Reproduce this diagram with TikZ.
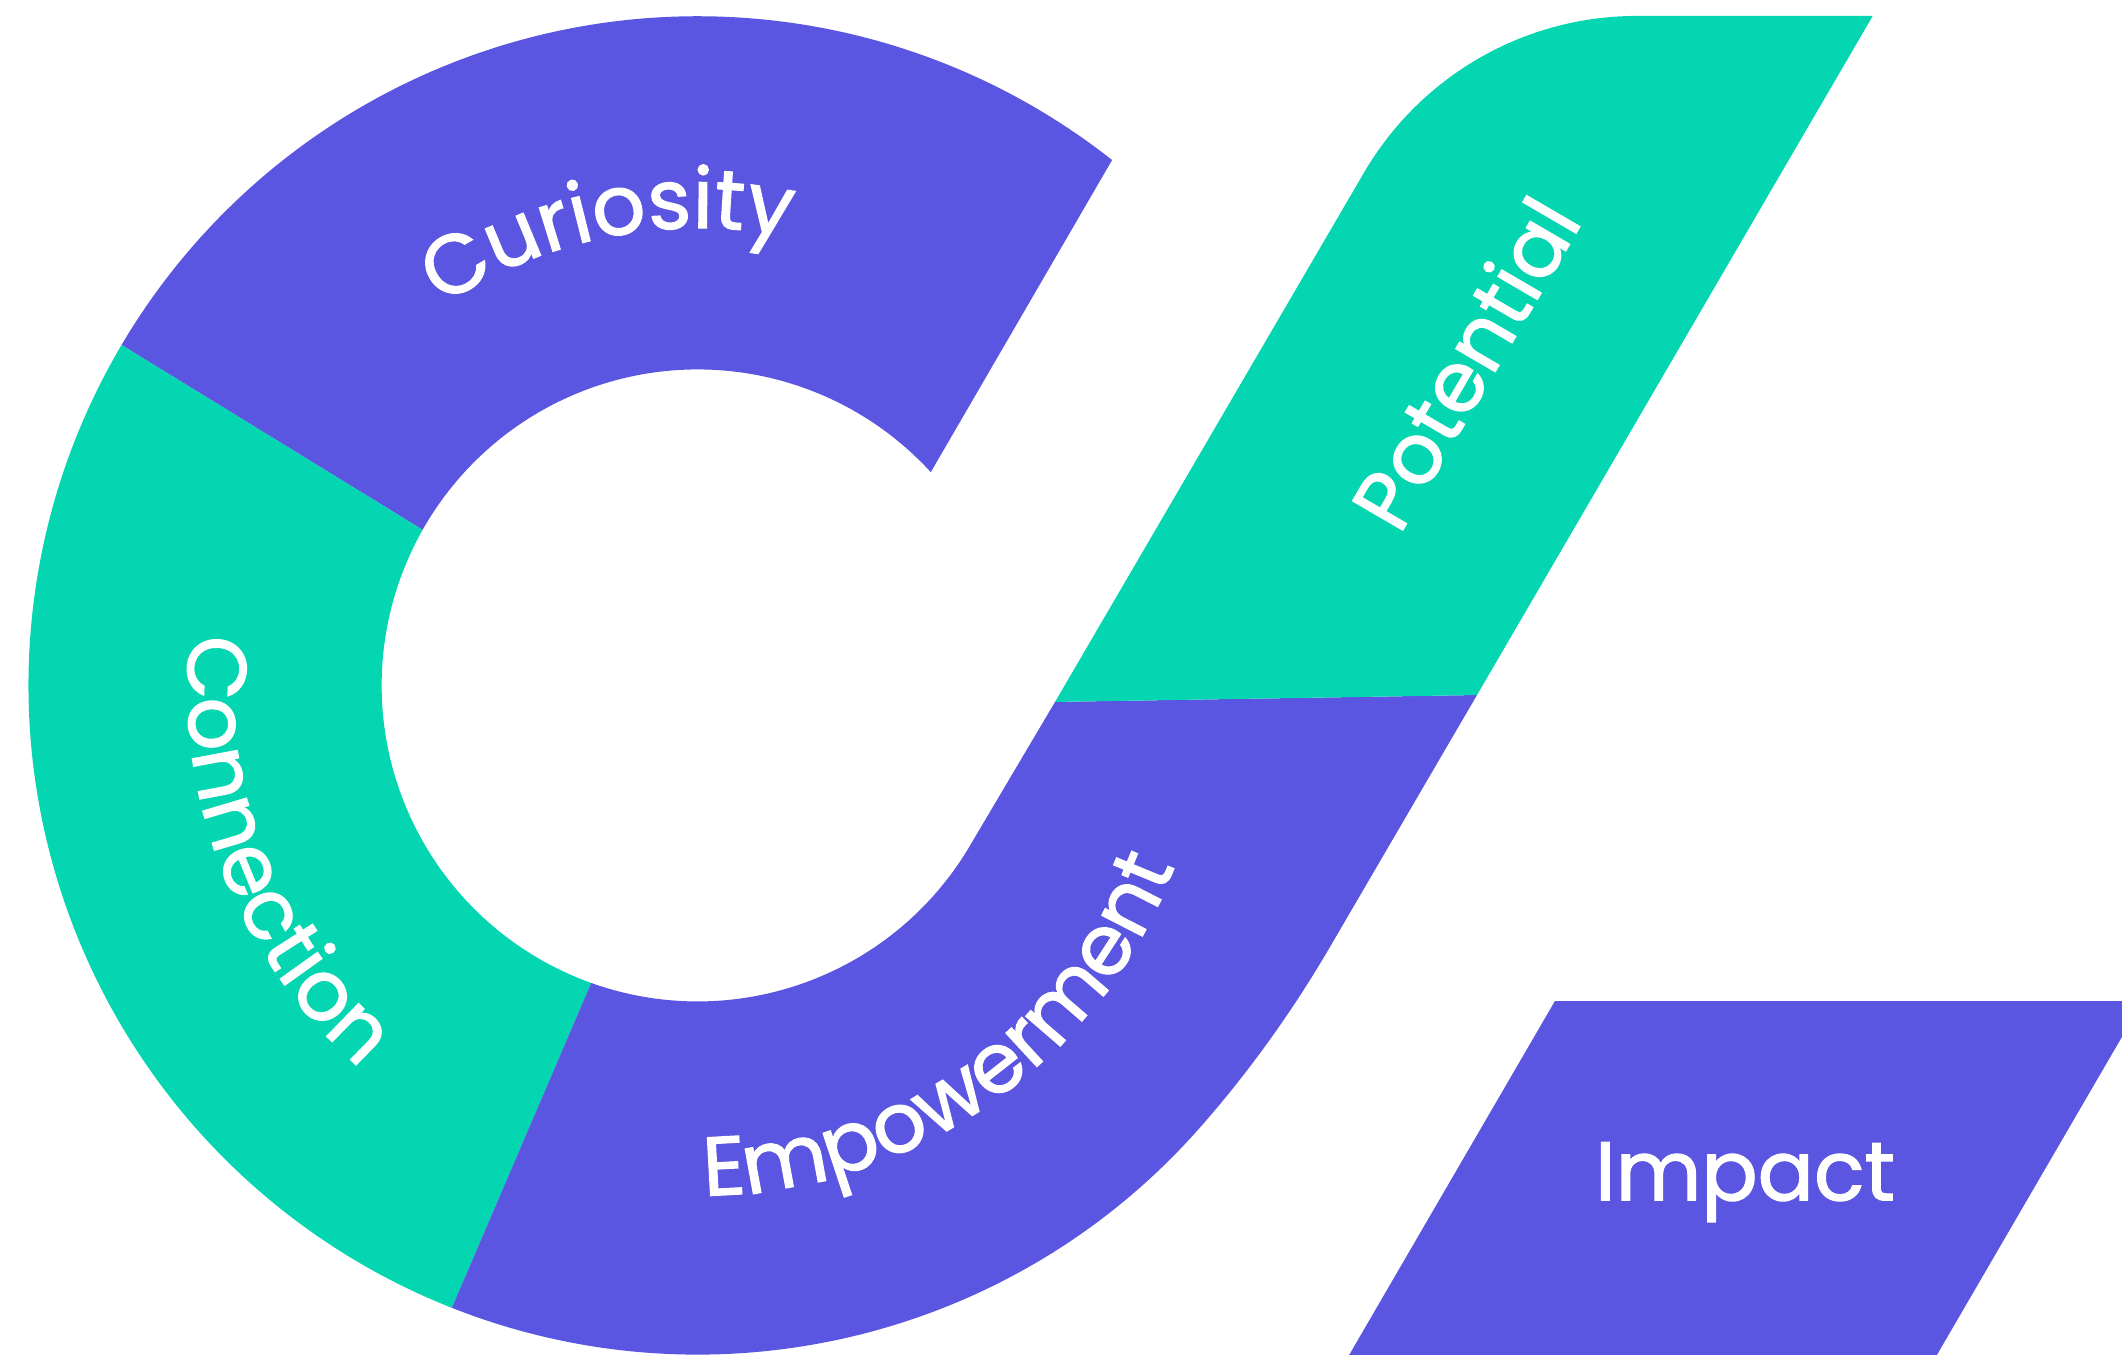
\documentclass[tikz,border=0pt]{standalone}
\usepackage{fontspec}
\setmainfont{Poppins}
\newfontfamily\lblfam{Poppins}[FakeBold=1.5]
\usetikzlibrary{decorations.text}
\definecolor{purp}{RGB}{90,86,225}
\definecolor{mint}{RGB}{4,214,178}
\newcommand{\lblfont}{\lblfam\fontsize{17.5pt}{20pt}\selectfont}
\tikzset{
  lbl/.style={text=white, font=\lblfont, inner sep=0pt},
  arclbl/.style={decorate, decoration={text along path, text align=center, text color=white, text={|\lblfont|#1}}}
}
\begin{document}
\begin{tikzpicture}[x=0.01cm,y=0.01cm]
\useasboundingbox (0,0) rectangle (1568,1001);
\clip (0,0) rectangle (1568,1001);
\coordinate (O) at (515.5,494.5);
% key points
\coordinate (PL) at (779.6,482.3);
\coordinate (PR) at (1091.4,487.4);
\coordinate (TP) at (1007.9,873.4);
\coordinate (TR) at (1383.8,989.2);
\coordinate (Pb) at (982.6,301);
% Curiosity
\fill[purp] ([shift={(149.42:494.5)}]O) arc[start angle=149.42, end angle=51.73, radius=494.5]
  -- ([shift={(42.45:233.5)}]O) arc[start angle=42.45, end angle=150.5, radius=233.5] -- cycle;
% Connection
\fill[mint] ([shift={(149.42:494.5)}]O) arc[start angle=149.42, end angle=248.45, radius=494.5]
  -- ([shift={(250.32:233.5)}]O) arc[start angle=250.32, end angle=150.5, radius=233.5] -- cycle;
% Empowerment
\fill[purp] ([shift={(248.45:494.5)}]O) arc[start angle=248.45, end angle=318.37, radius=494.5]
  .. controls (921.6,207.1) and (954.9,253.5) .. (Pb) -- (PR) -- (PL)
  -- ([shift={(329.73:233.5)}]O) arc[start angle=329.73, end angle=250.32, radius=233.5] -- cycle;
% Potential
\fill[mint] (PL) -- (TP) arc[start angle=149.73, end angle=90, radius=233.5] -- (TR) -- (PR) -- cycle;
% Impact
\fill[purp] (1149,261.3) coordinate (I1) -- (1583.4,261.3) coordinate (I2) -- (1430.8,-1) coordinate (I3) -- (996.5,-1) coordinate (I4) -- cycle;
% labels
\path[arclbl=Curiosity] ([shift={(141.2:338)}]O) arc[start angle=141.2, end angle=61.2, radius=338];
\path[arclbl=Connection] ([shift={(161.5:377)}]O) arc[start angle=161.5, end angle=241.5, radius=377];
\path[arclbl=Empowerment] ([shift={(255:377)}]O) arc[start angle=255, end angle=355, radius=377];
\node[lbl, rotate=59.73, anchor=base] (pot) at (1102,721.4) {Potential};
\node[lbl, anchor=base west] (imp) at (1178,114) {Impact};
\end{tikzpicture}
\end{document}
